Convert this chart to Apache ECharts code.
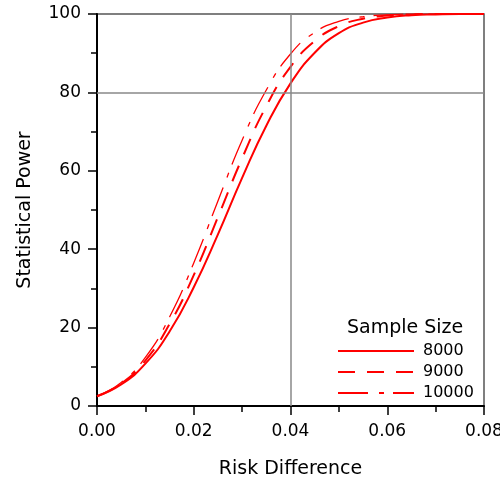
<!DOCTYPE html>
<html>
<head>
  <meta charset="utf-8">
  <title>Statistical Power</title>
  <script src="https://cdn.jsdelivr.net/npm/echarts@6/dist/echarts.min.js"></script>
  <style>
    html, body { margin: 0; padding: 0; background: #fff; }
    #main { width: 500px; height: 488px; }
  </style>
</head>
<body>
  <div id="main"></div>
  <script>
    // risk difference values (x)
    var riskDiff = [0, 0.005, 0.01, 0.015, 0.02, 0.025, 0.03, 0.035, 0.04,
      0.045, 0.05, 0.055, 0.06, 0.065, 0.07, 0.075, 0.08];

    // power (%) for each sample size
    var power8000 = [2.5, 5.5, 10.8, 19.0, 30.3, 43.8, 58.2, 71.5, 82.3,
      90.1, 95.1, 97.8, 99.1, 99.7, 99.9, 100, 100];
    var power9000 = [2.5, 5.7, 11.6, 20.9, 33.4, 48.2, 63.2, 76.5, 86.5,
      93.1, 96.9, 98.8, 99.6, 99.9, 100, 100, 100];
    var power10000 = [2.5, 6.0, 12.4, 22.7, 36.5, 52.3, 67.8, 80.6, 89.8,
      95.3, 98.1, 99.3, 99.8, 100, 100, 100, 100];

    var sampleSizes = ['8000', '9000', '10000'];
    var refX = 0.04, refY = 80;

    function pairs(ys) {
      return riskDiff.map(function (x, i) { return [x, ys[i]]; });
    }

    var font = 'DejaVu Sans, Arial, sans-serif';
    var chart = echarts.init(document.getElementById('main'));

    var option = {
      animation: false,
      textStyle: { fontFamily: font },
      grid: {
        left: 97, right: 16, top: 14, bottom: 82,
        outerBoundsMode: 'none',
        show: true, borderColor: '#555', borderWidth: 1.5
      },
      // legend heading
      graphic: [{
        type: 'text', left: 347, top: 319,
        style: { text: 'Sample Size', font: '19px ' + font, fill: '#000' }
      }],
      legend: {
        data: sampleSizes,
        orient: 'vertical',
        left: 332, top: 338,
        itemWidth: 76, itemHeight: 16, itemGap: 5,
        itemStyle: { opacity: 0 },
        textStyle: { fontSize: 16, color: '#000', fontFamily: font, padding: [0, 0, 0, 4] }
      },
      xAxis: {
        type: 'value', min: 0, max: 0.08, interval: 0.02,
        name: 'Risk Difference', nameLocation: 'middle', nameGap: 54,
        nameTextStyle: { fontSize: 19, color: '#000' },
        axisLine: { lineStyle: { color: '#000', width: 2 } },
        axisTick: { length: 9, lineStyle: { color: '#000', width: 1.5 } },
        minorTick: { show: true, splitNumber: 2, length: 6, lineStyle: { color: '#000', width: 1.5 } },
        axisLabel: { fontSize: 17, color: '#000', margin: 17, formatter: function (v) { return v.toFixed(2); } },
        splitLine: { show: false }
      },
      yAxis: {
        type: 'value', min: 0, max: 100, interval: 20,
        name: 'Statistical Power', nameLocation: 'middle', nameGap: 62,
        nameTextStyle: { fontSize: 19, color: '#000' },
        axisLine: { lineStyle: { color: '#000', width: 2 } },
        axisTick: { length: 9, lineStyle: { color: '#000', width: 1.5 } },
        minorTick: { show: true, splitNumber: 2, length: 6, lineStyle: { color: '#000', width: 1.5 } },
        axisLabel: { fontSize: 17, color: '#000', margin: 16 },
        splitLine: { show: false }
      },
      series: [{
        name: sampleSizes[0], type: 'line', smooth: true, symbol: 'none',
        data: pairs(power8000), z: 3,
        lineStyle: { color: '#f00', width: 2, type: 'solid' },
        itemStyle: { color: '#f00' },
        markLine: {
          silent: true, symbol: 'none', label: { show: false },
          lineStyle: { color: '#888', width: 1.5, type: 'solid' },
          data: [{ xAxis: refX }, { yAxis: refY }]
        }
      }, {
        name: sampleSizes[1], type: 'line', smooth: true, symbol: 'none',
        data: pairs(power9000), z: 3,
        lineStyle: { color: '#f00', width: 2, type: [17, 12] },
        itemStyle: { color: '#f00' }
      }, {
        name: sampleSizes[2], type: 'line', smooth: true, symbol: 'none',
        data: pairs(power10000), z: 3,
        lineStyle: { color: '#f00', width: 1.3, type: [30, 11, 5, 9] },
        itemStyle: { color: '#f00' }
      }]
    };

    chart.setOption(option);
  </script>
</body>
</html>
